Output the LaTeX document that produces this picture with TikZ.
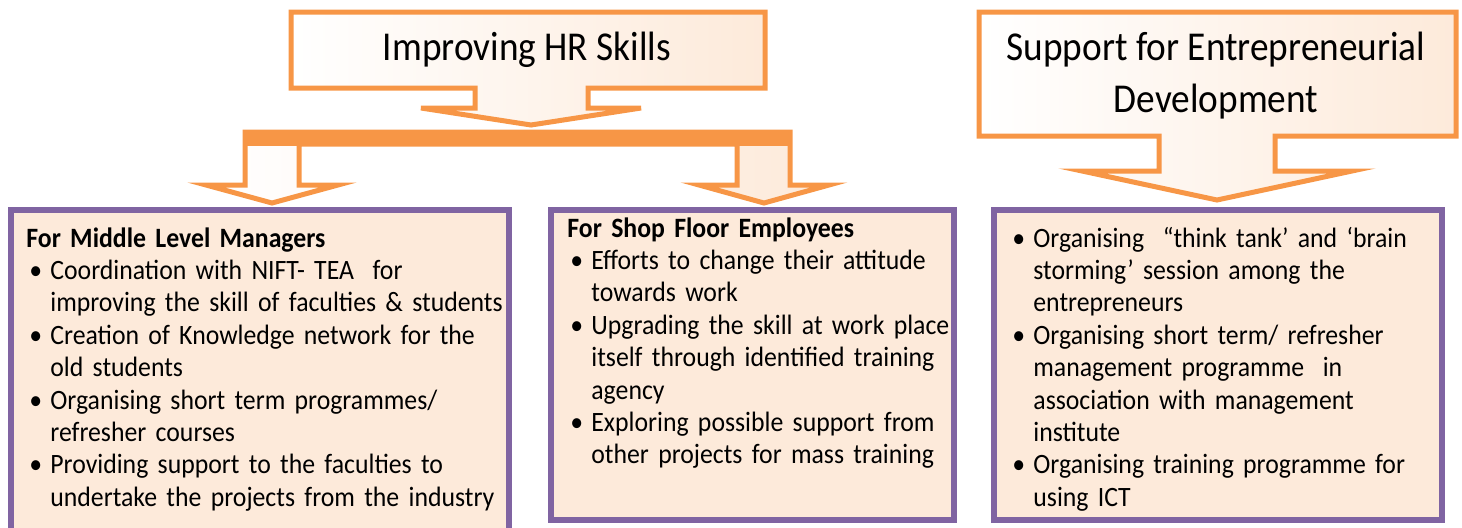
\documentclass[tikz,border=0pt]{standalone}
\usepackage{fontspec}
\setmainfont[FakeStretch=0.92]{Carlito}
\newfontfamily\titlefont[FakeStretch=0.91]{Carlito}
\definecolor{hrorange}{HTML}{F79646}
\definecolor{hrpurple}{HTML}{8064A2}
\definecolor{hrpeach}{HTML}{FDEADA}
\tikzstyle{callout}=[draw=hrorange, line width=2.5pt, line join=miter, left color=white, right color=hrpeach]
\tikzstyle{listbox}=[draw=hrpurple, line width=3pt, fill=hrpeach]
\tikzstyle{title}=[align=center, inner sep=0pt, anchor=base, font=\titlefont\fontsize{20.5}{26}\selectfont]
\tikzstyle{list}=[anchor=base west, inner sep=0pt, text width=250pt, align=left, font=\fontsize{14}{16.2}\selectfont]
\newcommand\bitem[1]{\hangindent=12pt\hangafter=1\noindent\makebox[12pt][l]{\hspace{1.5pt}\textbullet}#1\par}

\begin{document}
\begin{tikzpicture}[x=0.5pt, y=-0.5pt]
	\useasboundingbox (0,0) rectangle (1462,527);

	% Boxes
	\foreach \xa/\xb/\yb in {11/509/540, 551/954/520, 994/1442/520} {
		\draw[listbox] (\xa,210) rectangle (\xb,\yb);
	}

	% Callouts
	\draw[callout] (291,12) -- (765,12) -- (765,88) -- (588,88) -- (588,108) -- (641,108)
		-- (531,125) -- (421,108) -- (475,108) -- (475,88) -- (291,88) -- cycle;
	\draw[callout] (979,12) -- (1456,12) -- (1456,136) -- (1275,136) -- (1275,171) -- (1352,171)
		-- (1217,200) -- (1082,171) -- (1159,171) -- (1159,136) -- (979,136) -- cycle;

	% Bar with two arrows
	\draw[callout] (245,132) -- (790,132) -- (790,185) -- (829,185) -- (764,203) -- (699,185)
		-- (737,185) -- (737,144) -- (299,144) -- (299,185) -- (338,185) -- (272,203)
		-- (206,185) -- (245,185) -- cycle;
	\fill[hrorange] (243,130) rectangle (792,146);

	% Titles
	\node[title] (hrskills) at (527,60) {Improving HR Skills};
	\node[title] (entre) at (1216,112) {Support for Entrepreneurial\\Development};

	% Lists
	\node[list] (managers) at (26,247) {\textbf{For Middle Level Managers}\par
		\bitem{Coordination with NIFT- TEA\ \ for\newline improving the skill of faculties \& students}
		\bitem{Creation of Knowledge network for the\newline old students}
		\bitem{Organising short term programmes/\newline refresher courses}
		\bitem{Providing support to the faculties to\newline undertake the projects from the industry}};
	\node[list] (shopfloor) at (567,237) {\textbf{For Shop Floor Employees}\par
		\bitem{Efforts to change their attitude\newline towards work}
		\bitem{Upgrading the skill at work place\newline itself through identified training\newline agency}
		\bitem{Exploring possible support from\newline other projects for mass training}};
	\node[list] (entrelist) at (1009,247) {\bitem{Organising\ \ “think tank’ and ‘brain\newline storming’ session among the\newline entrepreneurs}
		\bitem{Organising short term/ refresher\newline management programme\ \ in\newline association with management\newline institute}
		\bitem{Organising training programme for\newline using ICT}};

\end{tikzpicture}
\end{document}
